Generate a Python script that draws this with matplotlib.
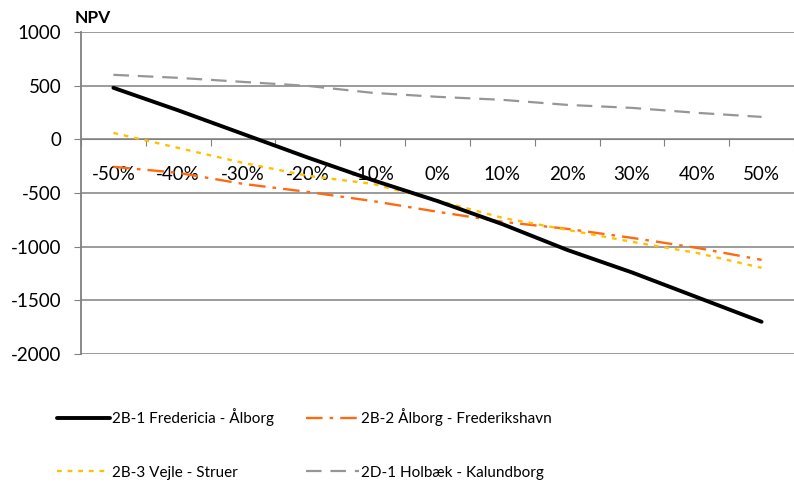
import matplotlib
matplotlib.use("Agg")
import matplotlib.pyplot as plt
from matplotlib.ticker import FixedLocator, NullFormatter

plt.rcParams['font.family'] = ['Lato', 'DejaVu Sans']

categories = ['-50%', '-40%', '-30%', '-20%', '-10%', '0%', '10%', '20%', '30%', '40%', '50%']
s_fredericia = [480, 270, 50, -170, -380, -575, -790, -1030, -1240, -1470, -1700]
s_frederikshavn = [-256, -312, -415, -490, -575, -675, -768, -834, -918, -1011, -1123]
s_struer = [60, -80, -219, -340, -415, -570, -731, -843, -955, -1058, -1197]
s_kalundborg = [601, 573, 535, 498, 433, 396, 368, 321, 293, 247, 209]
labels = ['2B-1 Fredericia - Ålborg', '2B-2 Ålborg - Frederikshavn',
          '2B-3 Vejle - Struer', '2D-1 Holbæk - Kalundborg']
y_ticks = [-2000, -1500, -1000, -500, 0, 500, 1000]

fig = plt.figure(figsize=(7.94, 4.82), dpi=100)
ax = fig.add_axes([81/794, 1-354/482, 713/794, 322/482])

x = list(range(len(categories)))
h1, = ax.plot(x, s_fredericia, color='black', lw=2.8, solid_capstyle='round', zorder=5)
h2, = ax.plot(x, s_frederikshavn, color='#FF6A10', lw=1.7, dashes=(7, 3, 1.5, 3), zorder=4)
h3, = ax.plot(x, s_struer, color='#FFC000', lw=1.7, dashes=(2, 2.5), zorder=4)
h4, = ax.plot(x, s_kalundborg, color='#969696', lw=1.6, dashes=(7, 4), zorder=3)

ax.set_xlim(-0.5, len(categories) - 0.5)
ax.set_ylim(-2000, 1000)
ax.set_yticks(y_ticks)
ax.set_yticklabels([str(v) for v in y_ticks])
ax.yaxis.grid(True, color='#808080', lw=1.1)
ax.set_axisbelow(True)
ax.tick_params(axis='y', length=5, color='#808080', labelsize=13.5, pad=9)

ax.spines['bottom'].set_position(('data', 0))
ax.spines['bottom'].set_color('#808080')
ax.spines['left'].set_color('#808080')
ax.spines['left'].set_linewidth(1.3)
ax.spines['top'].set_visible(False)
ax.spines['right'].set_visible(False)

bounds = [i - 0.5 for i in range(len(categories) + 1)]
ax.xaxis.set_major_locator(FixedLocator(bounds))
ax.xaxis.set_major_formatter(NullFormatter())
ax.xaxis.set_minor_locator(FixedLocator(x))
ax.set_xticklabels(categories, minor=True)
ax.tick_params(axis='x', which='major', length=5, color='#808080', direction='out')
ax.tick_params(axis='x', which='minor', length=0, labelsize=13.5, pad=19)

fig.text(75/794, 1-18/482, 'NPV', fontsize=12.5, fontweight='bold', va='center', ha='left')

fig.legend([h1, h3, h2, h4], [labels[0], labels[2], labels[1], labels[3]],
           loc='upper left', ncol=2,
           bbox_to_anchor=(51/794, 1-402/482), frameon=False,
           prop={'size': 11},
           handlelength=3.45, handletextpad=0.13, columnspacing=2.1, labelspacing=2.6,
           borderaxespad=0)

fig.savefig('out.png', dpi=100)
